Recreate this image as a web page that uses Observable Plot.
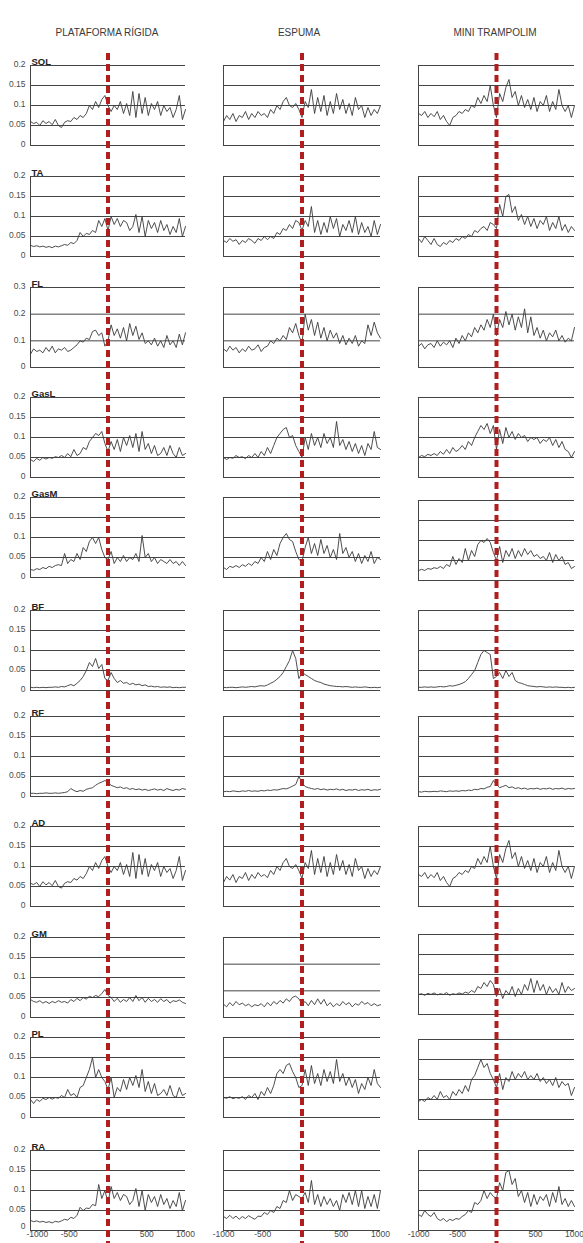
<!DOCTYPE html>
<html>
<head>
<meta charset="utf-8">
<script src="https://cdn.jsdelivr.net/npm/d3@7"></script>
<script src="https://cdn.jsdelivr.net/npm/@observablehq/plot@0.6"></script>
<style>
  body { margin: 0; background: #fff; }
  #root { position: relative; width: 583px; height: 1243px; overflow: hidden; font-family: "Liberation Sans", Arial, sans-serif; }
  .hdr { position: absolute; top: 27px; font-size: 10px; line-height: 12px; color: #3a3a3a; transform: translateX(-50%); white-space: nowrap; }
  .panel { position: absolute; }
</style>
</head>
<body>
<div id="root"></div>
<script>
// ---------- DATA ----------
const timeMs = [-1000,-960,-920,-880,-840,-800,-760,-720,-680,-640,
  -600,-560,-520,-480,-440,-400,-360,-320,-280,-240,
  -200,-160,-120,-80,-40,0,40,80,120,160,
  200,240,280,320,360,400,440,480,520,560,
  600,640,680,720,760,800,840,880,920,960,1000];

const conditions = ["PLATAFORMA RÍGIDA", "ESPUMA", "MINI TRAMPOLIM"];
const muscles = ["SOL","TA","FL","GasL","GasM","BF","RF","AD","GM","PL","RA"];

const yTicks02 = [0, 0.05, 0.1, 0.15, 0.2];
const yTicks03 = [0, 0.1, 0.2, 0.3];
const yTicks015 = [0, 0.05, 0.1, 0.15];
const xTickLabels = [-1000, -500, 500, 1000];

const SOL_rigida = [0.06,0.055,0.058,0.05,0.062,0.055,0.06,0.052,0.065,0.05,
  0.045,0.058,0.062,0.06,0.07,0.065,0.075,0.07,0.08,0.1,
  0.09,0.11,0.095,0.115,0.125,0.1,0.085,0.1,0.09,0.11,
  0.08,0.105,0.075,0.135,0.07,0.13,0.08,0.12,0.075,0.105,
  0.09,0.11,0.075,0.1,0.085,0.095,0.07,0.09,0.125,0.065,0.09];
const SOL_espuma = [0.06,0.075,0.065,0.08,0.06,0.075,0.07,0.085,0.065,0.08,
  0.07,0.085,0.075,0.08,0.07,0.09,0.08,0.1,0.09,0.11,
  0.12,0.1,0.095,0.105,0.09,0.07,0.11,0.095,0.14,0.08,
  0.12,0.085,0.125,0.075,0.11,0.08,0.13,0.09,0.115,0.08,
  0.105,0.075,0.12,0.09,0.1,0.07,0.095,0.075,0.09,0.08,0.1];
const SOL_trampolim = [0.08,0.075,0.085,0.07,0.08,0.072,0.085,0.065,0.075,0.06,
  0.05,0.07,0.075,0.085,0.08,0.09,0.085,0.1,0.095,0.12,
  0.105,0.125,0.11,0.15,0.1,0.07,0.13,0.11,0.145,0.165,
  0.12,0.135,0.1,0.125,0.095,0.115,0.09,0.12,0.085,0.11,
  0.1,0.125,0.085,0.11,0.09,0.14,0.1,0.085,0.1,0.07,0.1];

const TA_rigida = [0.028,0.025,0.027,0.024,0.026,0.023,0.025,0.022,0.026,0.024,
  0.027,0.03,0.028,0.035,0.032,0.04,0.06,0.05,0.058,0.055,
  0.065,0.06,0.09,0.075,0.095,0.065,0.1,0.08,0.095,0.075,
  0.09,0.085,0.065,0.075,0.105,0.06,0.1,0.05,0.09,0.07,
  0.085,0.06,0.09,0.065,0.08,0.055,0.075,0.06,0.095,0.05,0.075];
const TA_espuma = [0.04,0.035,0.045,0.038,0.042,0.03,0.04,0.035,0.045,0.04,
  0.033,0.045,0.04,0.05,0.042,0.05,0.045,0.06,0.055,0.07,
  0.065,0.08,0.07,0.09,0.085,0.065,0.09,0.075,0.125,0.06,
  0.09,0.055,0.085,0.06,0.1,0.07,0.095,0.05,0.08,0.065,
  0.09,0.06,0.1,0.055,0.085,0.06,0.075,0.05,0.09,0.055,0.08];
const TA_trampolim = [0.045,0.035,0.05,0.04,0.03,0.045,0.03,0.025,0.035,0.03,
  0.04,0.035,0.045,0.04,0.05,0.045,0.055,0.05,0.065,0.06,
  0.07,0.075,0.065,0.085,0.08,0.07,0.13,0.1,0.15,0.155,
  0.11,0.125,0.09,0.105,0.08,0.1,0.075,0.095,0.07,0.09,
  0.08,0.1,0.065,0.085,0.07,0.1,0.065,0.08,0.06,0.075,0.065];

const FL_rigida = [0.05,0.07,0.06,0.065,0.055,0.075,0.06,0.08,0.055,0.07,
  0.065,0.075,0.06,0.065,0.075,0.085,0.1,0.095,0.11,0.105,
  0.135,0.14,0.12,0.13,0.08,0.1,0.16,0.12,0.145,0.11,
  0.15,0.1,0.165,0.12,0.155,0.105,0.13,0.09,0.1,0.085,
  0.11,0.08,0.1,0.075,0.12,0.085,0.1,0.075,0.125,0.085,0.13];
const FL_espuma = [0.07,0.06,0.08,0.065,0.075,0.055,0.07,0.06,0.08,0.065,
  0.07,0.085,0.06,0.075,0.08,0.1,0.09,0.11,0.1,0.12,
  0.105,0.15,0.13,0.165,0.12,0.09,0.2,0.14,0.18,0.12,
  0.17,0.11,0.15,0.1,0.14,0.11,0.13,0.09,0.12,0.085,
  0.11,0.09,0.12,0.08,0.1,0.09,0.16,0.12,0.17,0.13,0.11];
const FL_trampolim = [0.08,0.09,0.07,0.085,0.09,0.075,0.1,0.08,0.095,0.085,
  0.1,0.075,0.11,0.09,0.12,0.1,0.13,0.115,0.15,0.13,
  0.16,0.14,0.18,0.15,0.2,0.12,0.18,0.15,0.21,0.16,
  0.2,0.14,0.19,0.15,0.22,0.13,0.19,0.12,0.15,0.11,
  0.14,0.1,0.13,0.115,0.14,0.1,0.12,0.095,0.11,0.1,0.15];

const GasL_rigida = [0.045,0.04,0.048,0.043,0.05,0.046,0.05,0.048,0.052,0.05,
  0.055,0.05,0.06,0.052,0.07,0.055,0.06,0.075,0.07,0.09,
  0.1,0.11,0.105,0.115,0.085,0.065,0.09,0.07,0.095,0.065,
  0.1,0.08,0.105,0.075,0.11,0.065,0.115,0.07,0.085,0.06,
  0.08,0.055,0.06,0.075,0.055,0.08,0.06,0.05,0.075,0.055,0.06];
const GasL_espuma = [0.05,0.045,0.05,0.048,0.055,0.05,0.052,0.047,0.055,0.05,
  0.06,0.05,0.065,0.055,0.075,0.06,0.08,0.1,0.11,0.12,
  0.125,0.1,0.105,0.08,0.065,0.05,0.1,0.07,0.11,0.08,
  0.1,0.075,0.11,0.085,0.1,0.075,0.14,0.08,0.095,0.07,
  0.09,0.065,0.085,0.06,0.08,0.055,0.085,0.07,0.115,0.075,0.07];
const GasL_trampolim = [0.05,0.055,0.052,0.058,0.055,0.06,0.055,0.065,0.058,0.07,
  0.06,0.075,0.065,0.07,0.08,0.07,0.09,0.08,0.1,0.115,
  0.13,0.12,0.135,0.11,0.13,0.07,0.12,0.085,0.125,0.1,
  0.115,0.095,0.11,0.1,0.105,0.09,0.1,0.095,0.1,0.085,
  0.095,0.09,0.1,0.08,0.095,0.075,0.09,0.07,0.065,0.05,0.065];

const GasM_rigida = [0.02,0.018,0.022,0.02,0.025,0.022,0.028,0.025,0.03,0.032,
  0.03,0.06,0.035,0.045,0.04,0.06,0.045,0.075,0.065,0.09,
  0.1,0.085,0.1,0.07,0.05,0.045,0.065,0.035,0.05,0.04,
  0.055,0.04,0.05,0.045,0.06,0.04,0.105,0.05,0.06,0.04,
  0.05,0.035,0.045,0.04,0.035,0.045,0.035,0.04,0.03,0.04,0.03];
const GasM_espuma = [0.025,0.02,0.028,0.025,0.03,0.025,0.032,0.028,0.035,0.03,
  0.04,0.035,0.05,0.04,0.065,0.045,0.07,0.055,0.085,0.1,
  0.11,0.095,0.09,0.065,0.045,0.04,0.075,0.1,0.06,0.085,
  0.055,0.095,0.06,0.08,0.05,0.07,0.045,0.11,0.06,0.075,
  0.05,0.065,0.04,0.06,0.035,0.055,0.04,0.065,0.035,0.05,0.045];
const GasM_trampolim = [0.025,0.028,0.025,0.03,0.028,0.032,0.03,0.035,0.03,0.04,
  0.035,0.06,0.04,0.055,0.045,0.08,0.05,0.075,0.06,0.09,
  0.1,0.095,0.105,0.095,0.07,0.05,0.085,0.045,0.075,0.06,
  0.08,0.055,0.075,0.06,0.08,0.065,0.075,0.06,0.065,0.055,
  0.06,0.05,0.07,0.045,0.065,0.05,0.06,0.04,0.045,0.03,0.035];

const BF_rigida = [0.008,0.007,0.008,0.007,0.008,0.007,0.008,0.008,0.009,0.008,
  0.01,0.009,0.012,0.015,0.012,0.018,0.025,0.035,0.05,0.07,
  0.06,0.08,0.055,0.065,0.03,0.025,0.045,0.03,0.02,0.025,
  0.018,0.02,0.015,0.018,0.014,0.016,0.012,0.014,0.01,0.011,
  0.009,0.01,0.008,0.009,0.008,0.009,0.007,0.008,0.007,0.008,0.008];
const BF_espuma = [0.008,0.007,0.008,0.008,0.007,0.008,0.009,0.008,0.009,0.01,
  0.009,0.011,0.012,0.011,0.014,0.018,0.022,0.028,0.035,0.045,
  0.06,0.075,0.1,0.08,0.03,0.045,0.04,0.035,0.03,0.025,
  0.022,0.02,0.016,0.014,0.012,0.011,0.01,0.01,0.009,0.01,
  0.009,0.008,0.009,0.008,0.008,0.009,0.008,0.007,0.008,0.007,0.008];
const BF_trampolim = [0.008,0.008,0.009,0.008,0.009,0.008,0.009,0.01,0.009,0.01,
  0.012,0.011,0.013,0.015,0.018,0.022,0.03,0.04,0.05,0.07,
  0.09,0.1,0.095,0.09,0.03,0.035,0.045,0.03,0.05,0.035,
  0.045,0.025,0.02,0.018,0.015,0.012,0.011,0.01,0.009,0.01,
  0.009,0.008,0.009,0.008,0.009,0.008,0.008,0.007,0.008,0.007,0.008];

const RF_rigida = [0.008,0.008,0.007,0.008,0.008,0.009,0.008,0.008,0.009,0.008,
  0.009,0.01,0.012,0.02,0.015,0.012,0.015,0.013,0.018,0.02,
  0.022,0.028,0.033,0.036,0.04,0.035,0.028,0.025,0.022,0.024,
  0.02,0.022,0.018,0.02,0.017,0.019,0.016,0.018,0.015,0.017,
  0.019,0.016,0.018,0.015,0.02,0.017,0.015,0.018,0.016,0.02,0.018];
const RF_espuma = [0.012,0.013,0.012,0.014,0.013,0.012,0.014,0.013,0.015,0.013,
  0.014,0.013,0.015,0.014,0.016,0.015,0.017,0.016,0.018,0.02,
  0.019,0.022,0.026,0.03,0.05,0.035,0.025,0.022,0.02,0.018,
  0.02,0.017,0.019,0.016,0.018,0.017,0.019,0.016,0.018,0.015,
  0.017,0.016,0.018,0.015,0.017,0.016,0.018,0.015,0.017,0.016,0.018];
const RF_trampolim = [0.012,0.011,0.013,0.012,0.012,0.013,0.012,0.014,0.013,0.012,
  0.014,0.013,0.014,0.013,0.015,0.014,0.016,0.015,0.018,0.017,
  0.02,0.019,0.023,0.025,0.04,0.03,0.022,0.025,0.028,0.022,
  0.024,0.02,0.022,0.019,0.021,0.018,0.02,0.019,0.021,0.018,
  0.02,0.019,0.021,0.018,0.02,0.019,0.021,0.018,0.02,0.019,0.02];

const AD_rigida = [0.058,0.055,0.06,0.05,0.062,0.054,0.06,0.052,0.065,0.05,
  0.046,0.058,0.062,0.06,0.07,0.066,0.075,0.07,0.082,0.1,
  0.09,0.11,0.095,0.115,0.125,0.1,0.085,0.1,0.09,0.11,
  0.08,0.105,0.075,0.135,0.07,0.13,0.08,0.12,0.075,0.105,
  0.09,0.11,0.075,0.1,0.085,0.095,0.07,0.09,0.125,0.065,0.09];
const AD_espuma = [0.06,0.075,0.066,0.08,0.06,0.075,0.07,0.085,0.065,0.08,
  0.07,0.085,0.075,0.08,0.072,0.09,0.08,0.1,0.09,0.11,
  0.12,0.1,0.095,0.105,0.09,0.07,0.11,0.095,0.14,0.08,
  0.12,0.085,0.125,0.075,0.11,0.08,0.13,0.09,0.115,0.08,
  0.105,0.075,0.12,0.09,0.1,0.07,0.095,0.075,0.09,0.08,0.1];
const AD_trampolim = [0.08,0.075,0.085,0.07,0.08,0.072,0.085,0.065,0.075,0.06,
  0.05,0.07,0.075,0.085,0.08,0.09,0.085,0.1,0.095,0.12,
  0.105,0.125,0.11,0.15,0.1,0.07,0.13,0.11,0.145,0.165,
  0.12,0.135,0.1,0.125,0.095,0.115,0.09,0.12,0.085,0.11,
  0.1,0.125,0.085,0.11,0.09,0.14,0.1,0.085,0.1,0.07,0.1];

const GM_rigida = [0.045,0.04,0.038,0.042,0.036,0.04,0.035,0.04,0.037,0.042,
  0.038,0.04,0.036,0.045,0.04,0.048,0.042,0.05,0.046,0.053,
  0.05,0.055,0.052,0.06,0.07,0.055,0.05,0.04,0.048,0.038,
  0.045,0.04,0.05,0.04,0.055,0.042,0.05,0.038,0.048,0.04,
  0.045,0.038,0.047,0.04,0.045,0.036,0.042,0.04,0.044,0.038,0.035];
const GM_espuma = [0.025,0.02,0.028,0.022,0.03,0.024,0.027,0.022,0.025,0.02,
  0.024,0.022,0.026,0.02,0.028,0.022,0.03,0.025,0.032,0.027,
  0.035,0.03,0.038,0.04,0.035,0.025,0.03,0.022,0.032,0.024,
  0.035,0.025,0.034,0.022,0.028,0.02,0.026,0.022,0.03,0.024,
  0.028,0.02,0.026,0.023,0.03,0.025,0.028,0.022,0.026,0.022,0.024];
const GM_trampolim = [0.05,0.052,0.048,0.053,0.05,0.054,0.049,0.052,0.05,0.055,
  0.048,0.052,0.05,0.054,0.051,0.056,0.053,0.06,0.055,0.07,
  0.065,0.08,0.07,0.085,0.075,0.045,0.065,0.04,0.06,0.05,
  0.07,0.045,0.065,0.05,0.075,0.06,0.09,0.055,0.085,0.06,
  0.075,0.05,0.07,0.055,0.065,0.05,0.08,0.055,0.07,0.06,0.065];

const PL_rigida = [0.045,0.035,0.045,0.04,0.048,0.045,0.05,0.046,0.05,0.048,
  0.055,0.05,0.07,0.055,0.06,0.05,0.075,0.08,0.1,0.12,
  0.15,0.1,0.12,0.1,0.09,0.07,0.1,0.05,0.075,0.065,
  0.095,0.07,0.1,0.08,0.105,0.075,0.12,0.065,0.09,0.06,
  0.085,0.055,0.06,0.07,0.055,0.08,0.055,0.05,0.075,0.055,0.06];
const PL_espuma = [0.05,0.048,0.052,0.047,0.05,0.048,0.052,0.045,0.055,0.05,
  0.06,0.045,0.065,0.055,0.075,0.06,0.08,0.11,0.12,0.11,
  0.13,0.135,0.115,0.1,0.075,0.08,0.12,0.08,0.13,0.085,
  0.11,0.08,0.12,0.09,0.115,0.085,0.145,0.09,0.11,0.08,
  0.1,0.075,0.095,0.06,0.085,0.07,0.1,0.08,0.12,0.085,0.075];
const PL_trampolim = [0.045,0.05,0.045,0.055,0.05,0.06,0.05,0.07,0.055,0.06,
  0.05,0.07,0.06,0.075,0.065,0.085,0.07,0.1,0.11,0.13,
  0.15,0.13,0.14,0.115,0.1,0.08,0.115,0.075,0.105,0.095,
  0.12,0.1,0.115,0.105,0.12,0.1,0.11,0.1,0.115,0.095,
  0.105,0.09,0.1,0.085,0.105,0.08,0.095,0.085,0.09,0.06,0.08];

const RA_rigida = [0.025,0.022,0.024,0.021,0.023,0.02,0.022,0.019,0.023,0.021,
  0.024,0.028,0.026,0.033,0.03,0.038,0.058,0.05,0.056,0.055,
  0.065,0.062,0.115,0.08,0.1,0.07,0.11,0.08,0.095,0.075,
  0.09,0.085,0.065,0.075,0.105,0.06,0.1,0.05,0.09,0.07,
  0.085,0.06,0.09,0.065,0.08,0.055,0.075,0.06,0.095,0.05,0.075];
const RA_espuma = [0.035,0.03,0.038,0.03,0.036,0.028,0.035,0.03,0.037,0.032,
  0.028,0.036,0.035,0.045,0.04,0.05,0.045,0.06,0.055,0.075,
  0.07,0.1,0.075,0.09,0.085,0.08,0.095,0.07,0.125,0.065,
  0.09,0.06,0.085,0.065,0.08,0.06,0.075,0.05,0.09,0.07,
  0.095,0.065,0.1,0.06,0.1,0.055,0.085,0.06,0.09,0.055,0.1];
const RA_trampolim = [0.04,0.035,0.05,0.04,0.035,0.045,0.03,0.025,0.03,0.022,
  0.028,0.025,0.03,0.028,0.035,0.04,0.05,0.045,0.07,0.065,
  0.075,0.1,0.08,0.095,0.085,0.08,0.12,0.1,0.145,0.15,
  0.115,0.13,0.085,0.1,0.07,0.095,0.06,0.09,0.065,0.085,
  0.075,0.09,0.06,0.095,0.07,0.11,0.065,0.08,0.06,0.075,0.06];

const series = {
  SOL: [SOL_rigida, SOL_espuma, SOL_trampolim],
  TA: [TA_rigida, TA_espuma, TA_trampolim],
  FL: [FL_rigida, FL_espuma, FL_trampolim],
  GasL: [GasL_rigida, GasL_espuma, GasL_trampolim],
  GasM: [GasM_rigida, GasM_espuma, GasM_trampolim],
  BF: [BF_rigida, BF_espuma, BF_trampolim],
  RF: [RF_rigida, RF_espuma, RF_trampolim],
  AD: [AD_rigida, AD_espuma, AD_trampolim],
  GM: [GM_rigida, GM_espuma, GM_trampolim],
  PL: [PL_rigida, PL_espuma, PL_trampolim],
  RA: [RA_rigida, RA_espuma, RA_trampolim]
};

// ---------- LAYOUT ----------
const colLeft = [30, 223, 418];
const colRight = [185, 380, 574];
const colCenter = [107, 299, 495];
const rowTops = [
  [65,176,287,397,497,610,716,826,937,1037,1150],
  [65,176,287,397,497,610,716,826,937,1037,1150],
  [65,176,287,397,500,610,716,826,934,1039,1150]
];
const panelH = 80;
const redStart = 53, pageBottom = 1243, dashPeriod = 11;

const root = document.getElementById("root");
conditions.forEach((c, i) => {
  const d = document.createElement("div");
  d.className = "hdr";
  d.style.left = colCenter[i] + "px";
  d.textContent = c;
  root.appendChild(d);
});

function domainFor(muscle, col) {
  if (muscle === "FL") return {ymax: 0.3, ticks: yTicks03};
  if (muscle === "GM" && col === 1) return {ymax: 0.15, ticks: yTicks015};
  return {ymax: 0.2, ticks: yTicks02};
}

const axisFont = {fontSize: 8.5, color: "#4a4a4a", label: null, tickSize: 0};

muscles.forEach((m, r) => {
  const lastRow = r === muscles.length - 1;
  for (let c = 0; c < 3; c++) {
    const values = series[m][c];
    const data = timeMs.map((t, i) => ({t, v: values[i]}));
    const {ymax, ticks} = domainFor(m, c);
    const top = rowTops[c][r];
    const bottom = top + panelH;
    const startY = r === 0 ? redStart : rowTops[c][r - 1] + panelH;
    const endY = lastRow ? pageBottom : bottom;
    const mL = c === 0 ? colLeft[0] : 12, mR = 6, mT = 36, mB = 18;
    const w = colRight[c] - colLeft[c];
    const marks = [
      Plot.ruleY(ticks, {stroke: "#454545", strokeWidth: 1}),
      Plot.ruleX([-1000], {stroke: "#454545", strokeWidth: 1}),
      Plot.line(data, {x: "t", y: "v", stroke: "#3a3a3a", strokeWidth: 0.9})
    ];
    if (c === 0) {
      const upper = lastRow ? ticks.filter(t => t !== 0) : ticks;
      marks.push(Plot.axisY({...axisFont, ticks: upper, tickPadding: 5, dy: -1, tickFormat: d => String(d)}));
      if (lastRow) {
        marks.push(Plot.axisY({...axisFont, ticks: [0], tickPadding: 5, dy: -4, tickFormat: d => String(d)}));
      }
      marks.push(Plot.text([m], {text: d => d, frameAnchor: "top-left", textAnchor: "start",
        lineAnchor: "bottom", dx: 1, dy: -1, fontSize: 9.5, fontWeight: "bold", fill: "#222"}));
    }
    if (lastRow) {
      if (c === 0) {
        marks.push(Plot.axisX({...axisFont, ticks: [xTickLabels[0]], tickPadding: 0, textAnchor: "start", dx: -4,
          tickFormat: d => String(d)}));
        marks.push(Plot.axisX({...axisFont, ticks: xTickLabels.slice(1), tickPadding: 0, tickFormat: d => String(d)}));
      } else {
        marks.push(Plot.axisX({...axisFont, ticks: xTickLabels, tickPadding: 0, tickFormat: d => String(d)}));
      }
    }
    marks.push(Plot.ruleX([0], {stroke: "#b11e1e", strokeWidth: 4, strokeDasharray: "7,4",
      strokeDashoffset: (startY - redStart) % dashPeriod,
      insetTop: -(top - startY), insetBottom: -(endY - bottom)}));

    const chart = Plot.plot({
      width: w + mL + mR,
      height: panelH + mT + mB,
      marginLeft: mL, marginRight: mR, marginTop: mT, marginBottom: mB,
      x: {domain: [-1000, 1000], label: null, axis: null},
      y: {domain: [0, ymax], label: null, axis: null},
      style: {overflow: "visible", maxWidth: "none", background: "transparent",
        fontFamily: "'Liberation Sans', Arial, sans-serif"},
      marks
    });
    const div = document.createElement("div");
    div.className = "panel";
    div.style.left = (colLeft[c] - mL) + "px";
    div.style.top = (top - mT) + "px";
    div.style.width = (w + mL + mR) + "px";
    div.appendChild(chart);
    root.appendChild(div);
  }
});
</script>
</body>
</html>
